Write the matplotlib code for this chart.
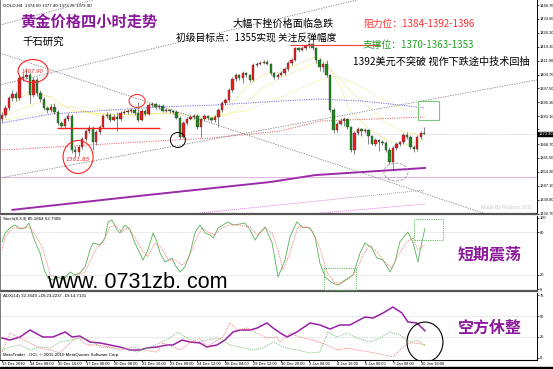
import matplotlib
matplotlib.use("Agg")
import matplotlib.pyplot as plt
from matplotlib.patches import Ellipse, Rectangle

plt.rcParams['font.family'] = ['Noto Sans CJK SC', 'DejaVu Sans']

# ---- 4H gold candles ----
opens = [1381.6, 1383.7, 1387.4, 1392.5, 1394.6, 1392.5, 1402.9, 1403.4, 1404.5, 1394.1,
         1401.9, 1395.1, 1392.0, 1387.4, 1386.3, 1387.9, 1385.3, 1379.6, 1378.0, 1381.6,
         1383.2, 1365.6, 1364.6, 1367.2, 1371.3, 1375.4, 1377.0, 1369.7, 1374.9, 1377.5,
         1383.2, 1383.7, 1381.1, 1382.7, 1381.6, 1384.8, 1385.3, 1385.8, 1386.3, 1384.8,
         1381.1, 1385.8, 1384.2, 1388.9, 1389.4, 1387.9, 1388.4, 1385.8, 1386.3, 1385.8,
         1385.3, 1382.2, 1372.3, 1379.6, 1381.6, 1382.7, 1383.2, 1377.5, 1381.6, 1383.2,
         1382.2, 1381.1, 1382.7, 1386.3, 1389.9, 1391.5, 1396.7, 1402.4, 1404.5, 1402.9,
         1405.5, 1404.5, 1401.9, 1409.6, 1410.2, 1410.7, 1411.2, 1410.2, 1405.5, 1403.4,
         1404.5, 1405.5, 1407.5, 1410.7, 1412.2, 1418.4, 1417.4, 1418.4, 1419.5, 1420.5,
         1418.4, 1412.2, 1408.6, 1410.2, 1404.5, 1386.3, 1376.0, 1379.1, 1380.6, 1381.6,
         1377.5, 1365.6, 1374.4, 1376.5, 1375.4, 1375.9, 1372.8, 1368.7, 1370.8, 1369.7,
         1369.2, 1365.6, 1359.4, 1366.6, 1368.7, 1369.7, 1373.4, 1372.3, 1367.2, 1366.1,
         1372.3, 1374.0]
highs = [1385.3, 1388.9, 1393.6, 1396.7, 1396.2, 1404.0, 1405.5, 1407.9, 1406.0, 1403.4,
         1403.4, 1396.7, 1393.1, 1388.4, 1389.4, 1389.9, 1386.3, 1380.6, 1382.7, 1384.8,
         1384.2, 1367.7, 1368.2, 1372.3, 1376.5, 1378.5, 1378.0, 1376.0, 1378.5, 1384.2,
         1385.3, 1384.8, 1384.2, 1385.3, 1385.8, 1386.3, 1386.8, 1387.4, 1387.4, 1390.5,
         1386.8, 1386.8, 1389.9, 1390.5, 1390.0, 1389.4, 1389.4, 1387.4, 1386.8, 1386.3,
         1386.3, 1383.2, 1380.6, 1382.7, 1383.7, 1384.2, 1384.2, 1382.2, 1384.2, 1383.7,
         1382.7, 1383.7, 1387.4, 1391.0, 1392.5, 1397.7, 1403.4, 1405.5, 1405.0, 1406.5,
         1406.0, 1405.0, 1410.7, 1411.2, 1411.7, 1412.2, 1412.2, 1410.7, 1406.0, 1405.5,
         1406.5, 1408.6, 1411.7, 1413.3, 1419.0, 1419.0, 1419.5, 1420.5, 1421.5, 1421.5,
         1419.0, 1413.3, 1411.2, 1412.2, 1405.0, 1387.4, 1380.1, 1382.2, 1382.7, 1382.2,
         1378.0, 1375.4, 1377.5, 1377.0, 1377.0, 1376.5, 1373.4, 1371.8, 1371.3, 1370.8,
         1370.3, 1367.2, 1367.7, 1369.7, 1370.3, 1374.4, 1374.9, 1373.4, 1368.2, 1373.4,
         1375.4, 1377.4]
lows = [1380.1, 1382.7, 1386.3, 1391.0, 1391.0, 1391.5, 1401.3, 1402.4, 1390.0, 1393.1,
        1393.6, 1390.5, 1386.3, 1384.8, 1385.3, 1384.2, 1378.5, 1377.0, 1377.0, 1380.6,
        1364.0, 1361.9, 1362.5, 1366.1, 1370.3, 1374.4, 1365.6, 1368.2, 1373.9, 1377.0,
        1382.2, 1380.1, 1380.6, 1375.4, 1380.6, 1384.2, 1384.2, 1384.8, 1383.7, 1380.1,
        1380.6, 1383.2, 1383.7, 1387.9, 1386.8, 1386.8, 1385.3, 1385.3, 1384.8, 1384.2,
        1381.6, 1371.3, 1371.8, 1378.5, 1381.1, 1381.6, 1376.5, 1372.3, 1380.6, 1381.1,
        1380.1, 1380.1, 1377.5, 1385.3, 1388.9, 1390.5, 1395.6, 1401.3, 1401.9, 1400.3,
        1403.4, 1400.8, 1401.3, 1408.6, 1409.6, 1410.2, 1409.6, 1404.5, 1402.4, 1402.4,
        1404.0, 1404.5, 1406.5, 1409.6, 1411.7, 1416.4, 1416.9, 1417.4, 1418.4, 1417.4,
        1410.7, 1406.5, 1406.0, 1403.4, 1385.3, 1374.4, 1375.0, 1378.5, 1378.0, 1376.5,
        1364.6, 1363.5, 1373.4, 1372.8, 1374.4, 1368.7, 1368.2, 1367.7, 1365.1, 1368.2,
        1364.6, 1358.4, 1355.2, 1365.6, 1367.7, 1368.7, 1371.3, 1366.1, 1364.6, 1365.1,
        1371.3, 1373.75]
closes = [1383.7, 1387.4, 1392.5, 1394.6, 1392.5, 1402.9, 1403.4, 1404.5, 1394.1, 1401.9,
          1395.1, 1392.0, 1387.4, 1386.3, 1387.9, 1385.3, 1379.6, 1378.0, 1381.6, 1383.2,
          1365.6, 1364.6, 1367.2, 1371.3, 1375.4, 1377.0, 1369.7, 1374.9, 1377.5, 1383.2,
          1383.7, 1381.1, 1382.7, 1381.6, 1384.8, 1385.3, 1385.8, 1386.3, 1384.8, 1381.1,
          1385.8, 1384.2, 1388.9, 1389.4, 1387.9, 1388.4, 1385.8, 1386.3, 1385.8, 1385.3,
          1382.2, 1372.3, 1379.6, 1381.6, 1382.7, 1383.2, 1377.5, 1381.6, 1383.2, 1382.2,
          1381.1, 1382.7, 1386.3, 1389.9, 1391.5, 1396.7, 1402.4, 1404.5, 1402.9, 1405.5,
          1404.5, 1401.9, 1409.6, 1410.2, 1410.7, 1411.2, 1410.2, 1405.5, 1403.4, 1404.5,
          1405.5, 1407.5, 1410.7, 1412.2, 1418.4, 1417.4, 1418.4, 1419.5, 1420.5, 1418.4,
          1412.2, 1408.6, 1410.2, 1404.5, 1386.3, 1376.0, 1379.1, 1380.6, 1381.6, 1377.5,
          1365.6, 1374.4, 1376.5, 1375.4, 1375.9, 1372.8, 1368.7, 1370.8, 1369.7, 1369.2,
          1365.6, 1359.4, 1366.6, 1368.7, 1369.7, 1373.4, 1372.3, 1367.2, 1366.1, 1372.3,
          1374.4, 1373.9]

# ---- moving averages on the price window (bar, price) ----
ma_fast_x = [0, 8, 14, 20, 30, 40, 50, 55, 60, 65, 70, 75, 80, 85, 90, 93, 97, 100, 105, 110, 115, 121]
ma_fast_y = [1385, 1396, 1393, 1386, 1384, 1384, 1385, 1381, 1382, 1388, 1398, 1405, 1406, 1410,
             1414, 1411, 1398, 1385, 1377, 1371, 1368, 1371]
ma_mid_x = [0, 10, 20, 30, 40, 50, 60, 65, 70, 75, 80, 85, 90, 95, 100, 105, 110, 115, 121]
ma_mid_y = [1383, 1390, 1388, 1382, 1384, 1385, 1382, 1384, 1390, 1398, 1403, 1407, 1411, 1406,
            1396, 1388, 1380, 1375, 1373]
ma_slow_x = [0, 20, 40, 60, 70, 80, 90, 95, 100, 105, 110, 115, 121]
ma_slow_y = [1381, 1388, 1385, 1383, 1386, 1393, 1401, 1404, 1401, 1396, 1391, 1387, 1384]
ma_blue_x = [0, 13.8, 31, 45, 61, 80, 91, 103, 114, 121]
ma_blue_y = [1379.6, 1384.2, 1386.3, 1387.9, 1388.9, 1391.0, 1392.0, 1391.0, 1388.9, 1387.4]
ma_red_x = [0, 59.6, 79.7, 91.1, 121.2]
ma_red_y = [1365.6, 1371.8, 1375.4, 1380.6, 1382.7]
ma_purple_x = [3, 41.8, 76.8, 89.7, 121.2]
ma_purple_y = [1334.6, 1342.3, 1349.0, 1352.6, 1356.3]
env_a_x = [53.9, 121.2]
env_a_y = [1332.4, 1344.9]
env_b_x = [84.8, 121.2]
env_b_y = [1331.9, 1337.6]
env_level = 1351.6

# trend lines: two points each (bar, price)
trend_lines = [((-0.6, 1430.3), (26.1, 1443.3)),
               ((-0.6, 1399.3), (101.7, 1443.3)),
               ((-0.6, 1415.8), (137.8, 1333.0)),
               ((-0.6, 1351.1), (153.3, 1401.9))]

price_ticks = [1440.70, 1433.50, 1426.30, 1419.10, 1411.90, 1404.70, 1397.50, 1390.30,
               1383.10, 1376.40, 1368.70, 1361.50, 1354.30, 1347.10, 1339.90, 1332.70]

# ---- Stochastic (8,3,3) ----
stoch_k_x = [0, 0.9, 2.3, 3.7, 5.2, 6.6, 7.7, 8.6, 9.5, 10.9, 12.3, 13.2, 14.6, 16.0, 17.5, 19.5,
             20.9, 22.3, 23.8, 25.2, 26.1, 28.1, 29.5, 30.4, 31.5, 33.0, 33.8, 35.2, 36.7, 38.1,
             39.5, 40.4, 41.8, 43.3, 44.4, 45.3, 46.7, 48.7, 49.6, 51.0, 52.4, 53.9, 55.3, 56.7,
             58.2, 59.6, 60.5, 61.9, 63.3, 64.8, 66.2, 68.2, 69.6, 71.1, 72.5, 73.9, 75.4, 77.4,
             79.1, 81.1, 82.5, 84.5, 86.0, 88.3, 89.7, 91.1, 92.6, 94.6, 96.3, 98.3, 100.6, 102.6,
             104.0, 106.0, 107.4, 109.2, 111.2, 112.6, 114.0, 116.3, 117.8, 119.2, 120.3, 121.2]
stoch_k_y = [66.2, 78.9, 85.9, 90.1, 84.5, 85.9, 93.0, 78.9, 66.2, 50.7, 23.9, 15.5, 12.7, 16.9,
             12.7, 23.9, 19.7, 22.5, 31.0, 54.9, 64.8, 62.0, 71.8, 94.4, 97.2, 83.1, 78.9, 90.1,
             83.1, 64.8, 50.7, 40.8, 54.9, 78.9, 66.2, 50.7, 38.0, 43.7, 33.8, 23.9, 31.0, 50.7,
             78.9, 90.1, 78.9, 76.1, 71.8, 85.9, 90.1, 94.4, 90.1, 91.5, 93.0, 83.1, 69.0, 78.9,
             87.3, 64.8, 16.9, 40.8, 73.2, 94.4, 87.3, 85.9, 73.2, 36.6, 16.9, 8.5, 5.6, 12.7,
             19.7, 50.7, 64.8, 57.7, 43.7, 40.8, 23.9, 38.0, 66.2, 80.3, 64.8, 38.0, 66.2, 85.2]
stoch_d_x = [0, 0.9, 3.2, 6.0, 8.0, 9.5, 11.5, 12.9, 13.8, 16.0, 18.9, 21.5, 23.8, 25.8, 27.2,
             28.9, 30.9, 32.4, 34.4, 36.1, 38.1, 40.1, 41.8, 43.8, 45.8, 47.6, 49.6, 51.6, 53.3,
             55.3, 57.3, 59.0, 61.0, 63.0, 65.3, 68.2, 71.1, 73.1, 75.4, 77.4, 79.1, 80.5, 82.5,
             84.8, 87.4, 89.1, 91.1, 93.1, 95.4, 97.4, 99.7, 101.7, 103.4, 105.4, 107.7, 109.7,
             111.7, 113.5, 116.0, 117.8, 119.2, 121.2]
stoch_d_y = [54.9, 73.2, 85.9, 85.9, 87.3, 76.1, 59.2, 36.6, 19.7, 16.9, 16.9, 19.7, 23.9, 45.1,
             59.2, 64.8, 87.3, 90.1, 80.3, 87.3, 73.2, 54.9, 45.1, 64.8, 57.7, 40.8, 40.8, 33.8,
             40.8, 66.2, 85.9, 80.3, 76.1, 85.9, 90.1, 90.1, 87.3, 76.1, 85.9, 78.9, 54.9, 26.8,
             50.7, 87.3, 87.3, 80.3, 57.7, 23.9, 8.5, 8.5, 15.5, 26.8, 47.9, 62.0, 50.7, 38.0,
             29.6, 47.9, 66.2, 71.8, 54.9, 62.8]

# ---- ADX(14) ----
adx_x = [0, 2.3, 5.2, 8.0, 11.7, 14.6, 18.1, 20.1, 22.3, 25.2, 28.1, 30.9, 33.8, 36.7, 39.5, 41.5,
         44.4, 47.3, 49.0, 51.6, 53.9, 56.7, 58.7, 61.6, 63.9, 66.2, 68.2, 71.1, 73.1, 75.9, 77.7,
         79.7, 81.7, 84.5, 88.3, 91.1, 94.0, 96.8, 99.7, 104.0, 106.3, 109.2, 112.0, 114.6, 116.3,
         118.9, 121.2]
adx_y = [23.8, 21.4, 25.0, 33.3, 25.0, 25.0, 31.0, 25.0, 26.2, 19.0, 17.9, 15.5, 13.1, 9.5, 9.5,
         11.9, 13.1, 15.5, 15.5, 21.4, 19.0, 17.9, 13.1, 15.5, 21.4, 31.0, 33.3, 33.3, 35.7, 41.7,
         35.7, 29.8, 25.0, 31.0, 41.7, 39.3, 34.5, 39.3, 39.3, 48.8, 47.6, 53.6, 60.7, 53.6, 42.9,
         41.7, 32.4]
pdi_x = [0, 2.3, 5.2, 8.0, 10.9, 13.8, 16.6, 19.5, 21.5, 24.4, 27.2, 30.9, 33.8, 37.5, 40.4, 44.4,
         46.1, 49.0, 51.0, 53.9, 56.7, 58.7, 60.5, 63.3, 65.3, 67.6, 70.2, 73.1, 75.9, 78.8, 79.7,
         82.5, 85.4, 89.1, 93.1, 96.0, 98.9, 101.7, 105.4, 109.7, 112.0, 114.6, 116.9, 118.9, 121.2]
pdi_y = [7.1, 29.8, 23.8, 17.9, 11.9, 9.5, 6.0, 17.9, 25.0, 15.5, 15.5, 13.1, 9.5, 13.1, 9.5, 7.1,
         17.9, 13.1, 9.5, 17.9, 23.8, 13.1, 17.9, 25.0, 41.7, 33.3, 35.7, 29.8, 23.8, 25.0, 19.0,
         29.8, 25.0, 21.4, 15.5, 9.5, 11.9, 9.5, 7.1, 3.6, 1.2, 11.9, 17.9, 17.9, 15.5]
mdi_x = [0, 2.3, 5.2, 8.0, 10.9, 13.8, 16.6, 19.5, 22.3, 25.2, 28.1, 31.8, 34.7, 38.7, 42.4, 45.3,
         48.1, 50.4, 53.0, 55.9, 58.7, 61.6, 63.3, 65.3, 68.2, 71.9, 74.8, 77.7, 80.5, 84.5, 88.3,
         91.1, 93.4, 96.0, 98.9, 101.7, 105.4, 108.3, 111.2, 114.0, 116.9, 118.9, 121.2]
mdi_y = [9.5, 13.1, 15.5, 9.5, 13.1, 11.9, 19.0, 21.4, 23.8, 21.4, 13.1, 11.9, 11.9, 7.1, 13.1,
         17.9, 23.8, 31.0, 23.8, 19.0, 21.4, 23.8, 21.4, 15.5, 13.1, 9.5, 11.9, 19.0, 13.1, 9.5,
         6.0, 7.1, 31.0, 25.0, 29.8, 23.8, 19.0, 23.8, 31.0, 27.4, 19.0, 21.4, 14.7]

date_pos = [0, 8, 16, 24, 32, 40, 48, 56, 64, 72, 80, 88, 96, 104, 112, 120]
date_labels = ['13 Dec 2010', '14 Dec 08:00', '15 Dec 16:00', '17 Dec 00:00', '20 Dec 08:00',
               '21 Dec 16:00', '23 Dec 00:00', '24 Dec 12:00', '28 Dec 04:00', '29 Dec 12:00',
               '30 Dec 20:00', '3 Jan 08:00', '4 Jan 16:00', '6 Jan 00:00', '7 Jan 08:00',
               '10 Jan 16:00']

# ---- figure, laid out in pixels like the MT4 window ----
W, H = 553, 369
fig = plt.figure(figsize=(W / 100, H / 100), dpi=100)
fig.patch.set_facecolor('white')
SMALL = 'Liberation Sans'


def px_axes(top, bottom, right=537):
    return fig.add_axes([0, 1 - bottom / H, right / W, (bottom - top) / H])


ax = px_axes(0, 214)
ax_st = px_axes(215.5, 291)
ax_adx = px_axes(292.5, 360)

XLIM = (-0.57, 153.3)
for a in (ax, ax_st, ax_adx):
    a.set_xlim(*XLIM)
    a.set_facecolor('white')
    a.yaxis.tick_right()
    a.tick_params(axis='y', direction='out', length=1.5, width=0.5, labelsize=2.9, pad=0.6)
    a.spines['top'].set_visible(False)
    a.spines['left'].set_color('#666666')
    a.spines['left'].set_linewidth(0.6)
    a.spines['right'].set_color('black')
    a.spines['right'].set_linewidth(0.7)
    a.spines['bottom'].set_color('#555555')
    a.spines['bottom'].set_linewidth(1.6)
for a in (ax, ax_st):
    a.set_xticks([])

ax.set_ylim(1332.45, 1443.3)
ax_st.set_ylim(-2.8, 103.5)
ax_adx.set_ylim(-2.4, 78.0)

# ---- main price window ----
x = list(range(len(closes)))
body_col = ['#EE1C1C' if c >= o else '#1E8A1E' for o, c in zip(opens, closes)]
ax.vlines(x, lows, highs, color='#555555', lw=0.5, zorder=3)
ax.bar(x, [c - o if abs(c - o) > 0.2 else 0.3 for o, c in zip(opens, closes)], bottom=opens,
       width=0.68, color=body_col, edgecolor='#333333', linewidth=0.25, zorder=4)

dot = (0, (1.2, 1.2))
ax.plot(ma_fast_x, ma_fast_y, color='#E6DC50', lw=0.6, ls=dot, zorder=2)
ax.plot(ma_mid_x, ma_mid_y, color='#EDE070', lw=0.6, ls=dot, zorder=2)
ax.plot(ma_slow_x, ma_slow_y, color='#F0E68C', lw=0.6, ls=dot, zorder=2)
ax.plot(ma_blue_x, ma_blue_y, color='#6F6FE8', lw=0.7, ls=dot, zorder=2)
ax.plot(ma_red_x, ma_red_y, color='#E86A6A', lw=0.7, ls=dot, zorder=2)
ax.plot(ma_purple_x, ma_purple_y, color='#9A2AA8', lw=1.4, zorder=2)
ax.plot(env_a_x, env_a_y, color='#D070D0', lw=0.6, ls=dot, zorder=2)
ax.plot(env_b_x, env_b_y, color='#D070D0', lw=0.6, ls=dot, zorder=2)
ax.axhline(env_level, color='#C050C0', lw=0.6, ls=dot, zorder=2)
ax.axhline(closes[-1], color='#BBBBBB', lw=0.5, ls=dot, zorder=1)

for p1, p2 in trend_lines:
    ax.axline(p1, p2, color='#808080', lw=0.6, ls=(0, (1.5, 1.5)), zorder=2)

# analyst markings
ax.hlines(1377.0, 15.8, 45.3, color='#FF2020', lw=1.0, zorder=5)
ax.hlines(1420.0, 82.5, 108.3, color='#FF4040', lw=0.8, zorder=5)
ax.add_patch(Ellipse((8.9, 1406.5), 8.6, 11.9, fill=False, ec='#FF2020', lw=0.8, zorder=6))
ax.add_patch(Ellipse((21.8, 1362.0), 8.6, 17.1, fill=False, ec='#FF2020', lw=0.8, zorder=6))
ax.add_patch(Ellipse((38.7, 1391.0), 4.6, 6.7, fill=False, ec='#FF2020', lw=0.7, zorder=6))
ax.add_patch(Ellipse((50.4, 1370.8), 4.3, 7.8, fill=False, ec='black', lw=0.7, zorder=6))
ax.add_patch(Ellipse((112.9, 1354.2), 6.9, 9.3, fill=False, ec='#999999', lw=0.6, ls='--', zorder=6))
ax.add_patch(Rectangle((119.2, 1381.1), 6.0, 9.9, fill=False, ec='#7CC87C', lw=0.8, zorder=6))
ax.text(8.9, 1406.5, '1407.90', color='#FF2020', fontsize=3.8, style='italic',
        ha='center', va='center', family='DejaVu Sans', zorder=7)
ax.text(21.8, 1360.8, '1361.85', color='#FF2020', fontsize=4.2, style='italic',
        ha='center', va='center', family='DejaVu Sans', zorder=7)

ax.set_yticks(price_ticks)
ax.set_yticklabels([f'{v:.2f}' for v in price_ticks], family=SMALL)
# the bid box sits over the axis label closest to it, as in the terminal
for lbl, v in zip(ax.get_yticklabels(), price_ticks):
    if abs(v - closes[-1]) < 3:
        lbl.set_visible(False)
ax.text(1.003, closes[-1], f'{closes[-1]:.2f}', transform=ax.get_yaxis_transform(),
        fontsize=2.9, color='white', va='center', ha='left', family=SMALL,
        bbox=dict(boxstyle='square,pad=0.1', fc='black', ec='black'), zorder=8, clip_on=False)
ax.text(0.005, 0.985, f'GOLD,H4  {opens[-1]:.2f} {highs[-1]:.2f} {lows[-1]:.2f} {closes[-1]:.2f}',
        transform=ax.transAxes, fontsize=3.2, va='top', family=SMALL)
ax.text(0.99, 0.02, 'Made By Rushon 2011', transform=ax.transAxes, fontsize=3.6,
        color='#C8C8C8', ha='right', va='bottom', family=SMALL)

# ---- stochastic window ----
ax_st.plot(stoch_k_x, stoch_k_y, color='#55B455', lw=0.6, zorder=3)
ax_st.plot(stoch_d_x, stoch_d_y, color='#F07070', lw=0.6, ls=dot, zorder=3)
for lvl in (80, 20):
    ax_st.axhline(lvl, color='#C8C8C8', lw=0.5, ls=dot, zorder=1)
ax_st.add_patch(Rectangle((92.3, -2.0), 9.1, 31.6, fill=False, ec='#55B455', lw=0.6,
                          ls=(0, (1.5, 1.2)), zorder=4))
ax_st.add_patch(Rectangle((118.0, 69.0), 8.4, 29.6, fill=False, ec='#55B455', lw=0.6,
                          ls=(0, (1.5, 1.2)), zorder=4))
ax_st.set_yticks([100, 80, 20, 0])
ax_st.set_yticklabels(['100', '80', '20', '0'], family=SMALL)
ax_st.text(0.005, 0.985, 'Stoch(8,3,3) 85.1864 62.7908', transform=ax_st.transAxes,
           fontsize=3.2, va='top', family=SMALL)

# ---- ADX window ----
ax_adx.plot(adx_x, adx_y, color='#9A1FA8', lw=1.1, zorder=3)
ax_adx.plot(pdi_x, pdi_y, color='#F07070', lw=0.6, ls=dot, zorder=3)
ax_adx.plot(mdi_x, mdi_y, color='#66BB66', lw=0.6, ls=dot, zorder=3)
for lvl in (50, 25):
    ax_adx.axhline(lvl, color='#C8C8C8', lw=0.5, ls=dot, zorder=1)
ax_adx.add_patch(Ellipse((121.2, 19.0), 10.3, 47.6, fill=False, ec='black', lw=0.8, zorder=5))
ax_adx.set_yticks([75, 50, 25, 0])
ax_adx.set_yticklabels(['75', '50', '25', '0'], family=SMALL)
ax_adx.text(0.005, 0.975, 'ADX(14) 32.3649 +DI:23.2237 -DI:14.7131', transform=ax_adx.transAxes,
            fontsize=3.2, va='top', family=SMALL)
ax_adx.text(0.005, 0.04, 'MetaTrader - GCI, © 2001-2010 MetaQuotes Software Corp.',
            transform=ax_adx.transAxes, fontsize=3.2, va='bottom', family=SMALL)
ax_adx.spines['bottom'].set_color('black')
ax_adx.spines['bottom'].set_linewidth(0.8)
ax_adx.set_xticks(date_pos)
ax_adx.set_xticklabels(date_labels, fontsize=2.9, ha='left', family=SMALL)
ax_adx.tick_params(axis='x', direction='out', length=1.2, width=0.5, pad=0.3)

# ---- overlay for the hand-written notes (pixel coords) ----
ov = fig.add_axes([0, 0, 1, 1], zorder=20)
ov.set_xlim(0, W)
ov.set_ylim(H, 0)
ov.axis('off')
ov.patch.set_alpha(0)
ov.axhspan(366.5, 369, color='black')

ov.text(20, 22, '黄金价格四小时走势', fontsize=11, color='#8B1A9B', fontweight='bold', va='center')
ov.text(22, 43, '千石研究', fontsize=7.5, color='black', va='center')
ov.text(233, 24, '大幅下挫价格面临急跌', fontsize=7.3, color='black', va='center')
ov.text(176, 37.5, '初级目标点：1355实现 关注反弹幅度', fontsize=7.0, color='black', va='center')
ov.text(363, 24, '阻力位：1384-1392-1396', fontsize=7.0, color='#FF3030', va='center')
ov.text(363, 45, '支撑位：1370-1363-1353', fontsize=7.0, color='#22A022', va='center')
ov.text(353, 62, '1392美元不突破 视作下跌途中技术回抽', fontsize=7.3, color='black', va='center')
ov.text(47, 282, 'www. 0731zb. com', fontsize=15.5, color='black', va='center',
        family='Liberation Sans')
ov.text(458, 254, '短期震荡', fontsize=11.5, color='#8B1A9B', fontweight='bold', va='center')
ov.text(457, 328, '空方休整', fontsize=11.5, color='#8B1A9B', fontweight='bold', va='center')

fig.savefig('out.png', dpi=100)
